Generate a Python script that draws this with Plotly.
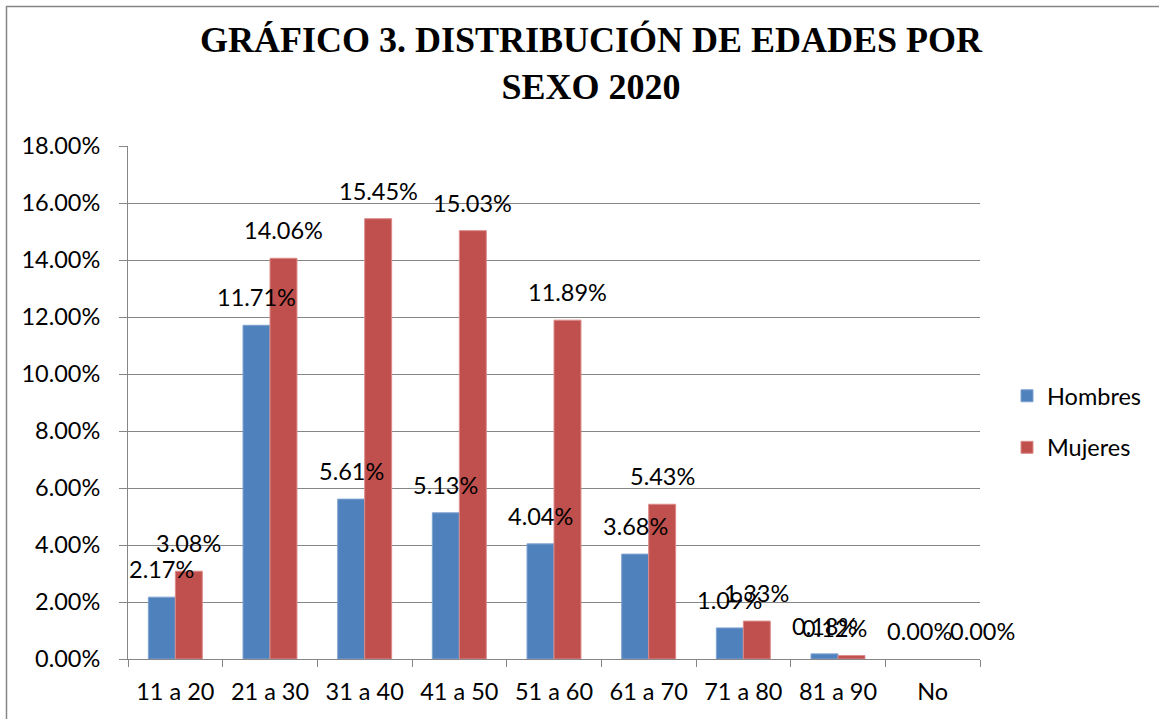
import plotly.graph_objects as go

categories = ["11 a 20", "21 a 30", "31 a 40", "41 a 50", "51 a 60", "61 a 70", "71 a 80", "81 a 90", "No"]
hombres = [0.0217, 0.1171, 0.0561, 0.0513, 0.0404, 0.0368, 0.0109, 0.0018, 0.0]
mujeres = [0.0308, 0.1406, 0.1545, 0.1503, 0.1189, 0.0543, 0.0133, 0.0012, 0.0]
y_ticks = [0.0, 0.02, 0.04, 0.06, 0.08, 0.10, 0.12, 0.14, 0.16, 0.18]
title_text = "GRÁFICO 3. DISTRIBUCIÓN DE EDADES POR<br>SEXO 2020"

FONT = "Lato"
FS = 23.5
BLUE = "#4F81BD"
RED = "#C0504D"
GRID = "#868686"

# plot area in pixels
L, R, T, B = 128, 980, 146, 659
W, H = 1159, 719
PW, PH = R - L, B - T

# extra horizontal nudges for a few data labels (as in the original chart)
label_nudge = {("m", "81 a 90"): -17, ("m", "No"): 36}

def px_x(px):
    return (px - L) / PW

def px_y(py):
    return (B - py) / PH

def edge_widths(vals):
    return [1 if v > 0 else 0 for v in vals]

fig = go.Figure()
fig.add_trace(go.Bar(name="Hombres", x=categories, y=hombres,
                     marker=dict(color=BLUE, line=dict(color="#7FA3D1", width=edge_widths(hombres))),
                     legendgroup="h"))
fig.add_trace(go.Bar(name="Mujeres", x=categories, y=mujeres,
                     marker=dict(color=RED, line=dict(color="#DC8C8A", width=edge_widths(mujeres))),
                     legendgroup="m"))

annotations = []
for key, series, shift in (("h", hombres, -13.5), ("m", mujeres, 13.5)):
    for c, v in zip(categories, series):
        annotations.append(dict(x=c, y=v, xref="x", yref="y", text=f"{v*100:.2f}%", showarrow=False,
                                xshift=shift + label_nudge.get((key, c), 0), yshift=12,
                                yanchor="bottom", xanchor="center",
                                font=dict(family=FONT, size=FS, color="black")))

annotations.append(dict(text=title_text, xref="paper", yref="paper", x=px_x(591), y=px_y(63),
                        xanchor="center", yanchor="middle", showarrow=False, align="center",
                        font=dict(family="Liberation Serif", size=36, color="black", weight="bold")))

fig.update_layout(
    width=W, height=H,
    paper_bgcolor="white", plot_bgcolor="white",
    margin=dict(l=L, r=W - R, t=T, b=H - B),
    barmode="group", bargap=0.43, bargroupgap=0,
    font=dict(family=FONT, size=FS, color="black"),
    showlegend=True,
    legend=dict(x=px_x(1007), y=px_y(422), xanchor="left", yanchor="middle",
                font=dict(family=FONT, size=FS, color="black"),
                tracegroupgap=18, traceorder="grouped", itemwidth=30),
    annotations=annotations,
    xaxis=dict(range=[-0.5, len(categories) - 0.5], autorange=False,
               showline=True, linecolor=GRID, linewidth=1, ticks="outside", ticklen=7, tickcolor=GRID,
               tickson="boundaries", tickfont=dict(family=FONT, size=FS, color="black"), showgrid=False,
               ticklabelstandoff=12),
    yaxis=dict(range=[0, 0.18], autorange=False, tickvals=y_ticks, tickformat=".2%", showline=True,
               linecolor=GRID, linewidth=1,
               ticks="outside", ticklen=8, tickcolor=GRID, gridcolor=GRID, gridwidth=1,
               tickfont=dict(family=FONT, size=FS, color="black"), zeroline=False, ticklabelstandoff=14),
    shapes=[dict(type="rect", xref="paper", yref="paper", x0=px_x(6.5), x1=px_x(1175),
                 y0=px_y(735), y1=px_y(6.5), line=dict(color=GRID, width=1.5), fillcolor="rgba(0,0,0,0)")],
)

fig.write_html("out.html", config={"displayModeBar": False},
               post_script="document.body.style.margin='0';")
